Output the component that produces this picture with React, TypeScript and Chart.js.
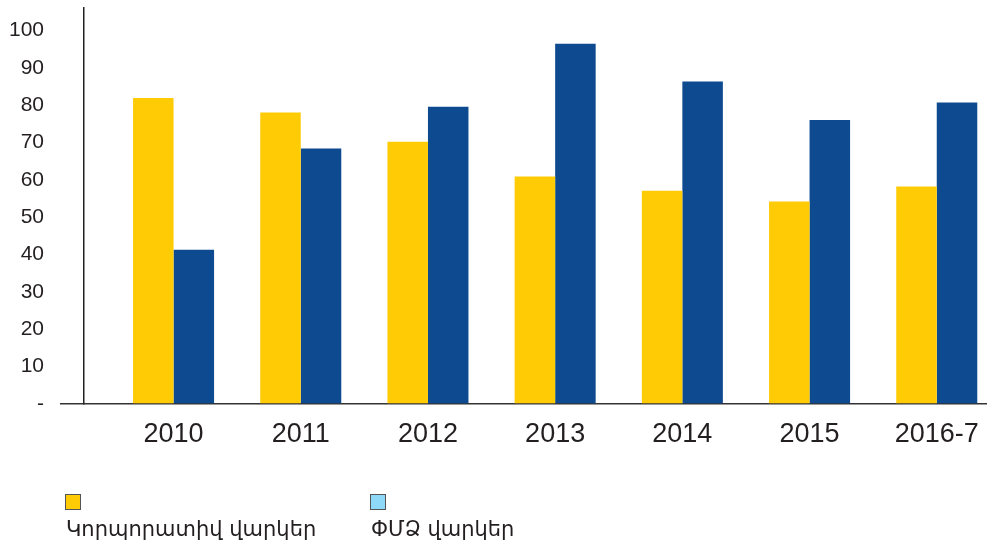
import React, { useEffect, useRef } from "react";
import { Chart, registerables } from "chart.js";

Chart.register(...registerables);

const categories = ["2010", "2011", "2012", "2013", "2014", "2015", "2016-7"];
const corporateLoans = [81.9, 78.0, 70.2, 60.9, 57.1, 54.2, 58.2];
const smeLoans = [41.3, 68.4, 79.6, 96.4, 86.3, 76.0, 80.7];
const seriesNames = ["Կորպորատիվ վարկեր", "ՓՄՁ վարկեր"];
const barColors = ["#FFCB05", "#0E4A8F"];
const legendColors = ["#FFCB05", "#8ED8F8"];
const yTickValues = [0, 10, 20, 30, 40, 50, 60, 70, 80, 90, 100];

const TEXT = "#231F20";
const TICK_FONT = "'Liberation Sans Narrow', 'Liberation Sans', Arial, sans-serif";

export default function App() {
  const ref = useRef<HTMLCanvasElement | null>(null);

  useEffect(() => {
    if (!ref.current) return;
    const chart = new Chart(ref.current, {
      type: "bar",
      data: {
        datasets: [
          {
            label: seriesNames[0],
            data: categories.map((_, i) => ({ x: i, y: corporateLoans[i] })),
            backgroundColor: barColors[0],
            borderWidth: 0,
          },
          {
            label: seriesNames[1],
            data: categories.map((_, i) => ({ x: i, y: smeLoans[i] })),
            backgroundColor: barColors[1],
            borderWidth: 0,
          },
        ],
      },
      options: {
        responsive: false,
        animation: false,
        devicePixelRatio: 1,
        layout: { padding: { top: 8, right: 0, left: 0, bottom: 0 } },
        plugins: { legend: { display: false }, tooltip: { enabled: false } },
        datasets: { bar: { categoryPercentage: 0.637, barPercentage: 1 } },
        scales: {
          x: {
            type: "linear",
            min: -0.704,
            max: 6.395,
            offset: false,
            grid: { display: false, drawTicks: false, offset: false },
            border: { display: true, color: "#333", width: 1.5 },
            ticks: {
              stepSize: 1,
              includeBounds: false,
              autoSkip: false,
              maxRotation: 0,
              padding: 14,
              color: TEXT,
              font: { family: TICK_FONT, size: 27 },
              callback: (v: any) => {
                const n = Number(v);
                return Number.isInteger(n) && n >= 0 && n < categories.length ? categories[n] : "";
              },
            },
            afterFit: (s: any) => {
              s.height = 143;
              s.paddingLeft = 0;
              s.paddingRight = 0;
            },
          },
          y: {
            min: 0,
            max: 106,
            grid: {
              display: true,
              drawOnChartArea: false,
              drawTicks: true,
              tickLength: 24,
              lineWidth: 1.5,
              color: (c: any) => (c.tick && c.tick.value === 0 ? "#333" : "transparent"),
              tickColor: (c: any) => (c.tick && c.tick.value === 0 ? "#333" : "transparent"),
            },
            border: { display: true, color: "#222", width: 1.5 },
            afterBuildTicks: (s: any) => {
              s.ticks = yTickValues.map((v) => ({ value: v }));
            },
            ticks: {
              padding: 16,
              color: TEXT,
              font: { family: TICK_FONT, size: 21 },
              callback: (v: any) => (Number(v) === 0 ? "-" : String(v)),
            },
            afterFit: (s: any) => {
              s.width = 84;
              s.paddingTop = 0;
              s.paddingBottom = 0;
            },
          },
        },
      },
    });
    return () => chart.destroy();
  }, []);

  const legendItem = (i: number, left: number) => (
    <div
      key={i}
      style={{ position: "absolute", left, top: 494, fontFamily: "'DejaVu Sans', sans-serif", color: TEXT }}
    >
      <div
        style={{
          width: 16,
          height: 16,
          background: legendColors[i],
          border: "1px solid #555",
          boxSizing: "border-box",
          marginLeft: -1,
        }}
      />
      <div style={{ fontSize: 21, marginTop: 7, whiteSpace: "nowrap", lineHeight: "24px" }}>{seriesNames[i]}</div>
    </div>
  );

  return (
    <div style={{ position: "fixed", left: 0, top: 0, width: 987, height: 547, background: "#fff", overflow: "hidden" }}>
      <canvas ref={ref} width={987} height={547} style={{ width: 987, height: 547, display: "block" }} />
      {legendItem(0, 66)}
      {legendItem(1, 371)}
    </div>
  );
}
